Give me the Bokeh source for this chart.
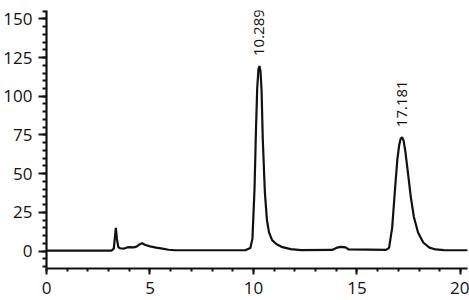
import math
from bokeh.plotting import figure
from bokeh.models import Range1d, FixedTicker, ColumnDataSource
from bokeh.core.properties import value
from bokeh.embed import file_html
from bokeh.resources import INLINE

# retention time (min) and detector signal
time = [0, 3.15, 3.25, 3.30, 3.35, 3.40, 3.47, 3.55, 3.75, 3.9, 4.0, 4.2, 4.35, 4.5, 4.62,
        4.75, 5.0, 5.3, 5.6, 5.9, 6.2, 9.6, 9.85, 9.95, 10.05, 10.12, 10.18, 10.24, 10.29,
        10.34, 10.39, 10.45, 10.55, 10.65, 10.75, 10.9, 11.1, 11.4, 11.8, 12.3, 13.8, 14.0,
        14.2, 14.45, 14.6, 16.4, 16.55, 16.7, 16.85, 16.95, 17.04, 17.11, 17.18, 17.25,
        17.33, 17.45, 17.6, 17.75, 17.95, 18.2, 18.5, 18.8, 19.2, 20.35]
signal = [0.3, 0.3, 1.5, 8, 15, 8, 2.5, 1.8, 1.6, 2.3, 2.5, 2.4, 2.8, 4.3, 5.0,
          4.0, 3.0, 2.2, 1.5, 0.8, 0.5, 0.5, 2, 8, 40, 78, 105, 117.5, 119.5,
          116, 104, 72, 38, 20, 12, 7, 4.5, 2.5, 1.2, 0.6, 0.7, 2.0,
          2.7, 2.3, 1.0, 0.7, 2, 15, 42, 59, 68.5, 72.5, 73.5, 71.5,
          65, 52, 35, 22, 12, 5.5, 2.2, 1.0, 0.6, 0.5]

peak_times = [10.289, 17.181]
peak_heights = [119.5, 73.5]
peak_labels = ["10.289", "17.181"]

x_ticks = [0, 5, 10, 15, 20]
y_ticks = [0, 25, 50, 75, 100, 125, 150]

p = figure(width=469, height=300, output_backend="svg", toolbar_location=None,
           x_range=Range1d(0, 20.34), y_range=Range1d(-11.3, 155.4),
           min_border_left=46, min_border_right=2, min_border_top=10, min_border_bottom=32)
p.outline_line_color = None
p.grid.visible = False
p.background_fill_color = "white"
p.border_fill_color = "white"

p.line(time, signal, line_color="#111111", line_width=2.2)

label_y = [h + 6.5 for h in peak_heights]
src = ColumnDataSource(dict(x=peak_times, y=label_y, t=peak_labels))
p.text(x="x", y="y", text="t", source=src, angle=math.pi / 2,
       text_align="left", text_baseline="middle",
       text_font=value("Open Sans"), text_font_size="15px", text_color="#111111")

xa = p.xaxis[0]
xa.ticker = FixedTicker(ticks=x_ticks, minor_ticks=list(range(0, 21)))
ya = p.yaxis[0]
ya.ticker = FixedTicker(ticks=y_ticks, minor_ticks=list(range(-10, 156, 5)))

for ax in (xa, ya):
    ax.axis_line_color = "#111111"
    ax.axis_line_width = 2.2
    ax.major_tick_line_color = "#111111"
    ax.major_tick_line_width = 2
    ax.minor_tick_line_color = "#111111"
    ax.minor_tick_line_width = 2
    ax.major_tick_in = 0
    ax.minor_tick_in = 0
    ax.major_label_text_font = "Open Sans"
    ax.major_label_text_font_size = "17px"
    ax.major_label_text_color = "#111111"

xa.major_tick_out = 6
xa.minor_tick_out = 3
xa.major_label_standoff = 7
ya.major_tick_out = 8
ya.minor_tick_out = 4
ya.major_label_standoff = 6

open("out.html", "w").write(file_html(p, INLINE))
